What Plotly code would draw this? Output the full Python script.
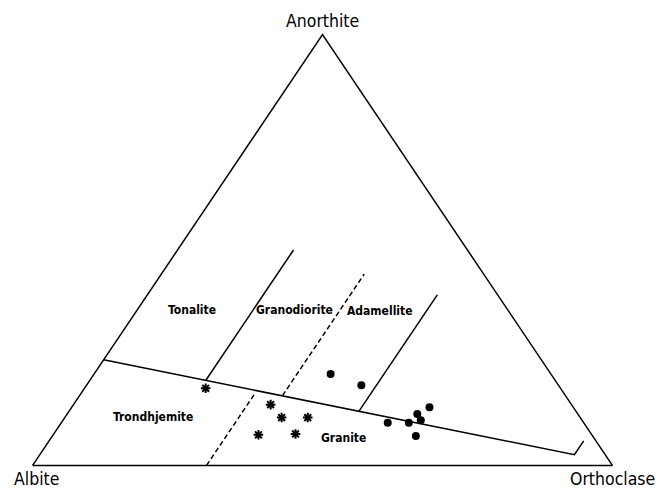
import plotly.graph_objects as go

# ---------------- data (percent An / Ab / Or) ----------------
vertex_labels = ["Anorthite", "Albite", "Orthoclase"]
region_labels = ["Tonalite", "Granodiorite", "Adamellite", "Trondhjemite", "Granite"]

# samples plotted as asterisks
star_an = [17.9, 14.1, 11.1, 11.1, 7.1, 7.3]
star_or = [20.9, 34.0, 37.4, 41.9, 35.4, 41.7]
star_ab = [61.2, 51.9, 51.5, 47.0, 57.5, 51.0]

# samples plotted as filled circles
dot_an = [21.2, 18.6, 13.5, 11.9, 10.5, 9.9, 9.9, 6.8]
dot_or = [40.8, 47.4, 61.7, 60.4, 61.7, 56.3, 60.0, 62.7]
dot_ab = [38.0, 34.0, 24.8, 27.7, 27.8, 33.8, 30.2, 30.5]

# field boundaries (An, Or); Ab = 100 - An - Or
tri_an = [0, 100, 0, 0]
tri_or = [0, 0, 100, 0]
main_an = [24.5, 2.5, 5.7]
main_or = [0.0, 92.2, 92.2]
ton_gd_an = [19.7, 50.0]
ton_gd_or = [20.0, 20.0]
gd_ad_an = [16.2, 44.4]
gd_ad_or = [35.0, 35.0]
ad_gr_an = [12.6, 39.6]
ad_gr_or = [50.0, 50.0]
tr_gr_an = [0.0, 16.5]
tr_gr_or = [30.0, 30.0]


def to_xy(an, orr, ab=None):
    """Project ternary compositions onto the triangle's plane."""
    xs, ys = [], []
    for i, (a, o) in enumerate(zip(an, orr)):
        b = ab[i] if ab is not None else 100.0 - a - o
        t = a + b + o
        xs.append((o + a / 2.0) * 100.0 / t)
        ys.append(a * 100.0 / t)
    return xs, ys


FONT = "DejaVu Sans Condensed, DejaVu Sans, sans-serif"
fig = go.Figure()


def add_line(an, orr, dash="solid"):
    x, y = to_xy(an, orr)
    fig.add_trace(go.Scatter(x=x, y=y, mode="lines", hoverinfo="skip",
                             line=dict(color="black", width=1.5, dash=dash),
                             showlegend=False))


add_line(tri_an, tri_or)
add_line(main_an, main_or)
add_line(ton_gd_an, ton_gd_or)
add_line(gd_ad_an, gd_ad_or, dash="5px,3px")
add_line(ad_gr_an, ad_gr_or)
add_line(tr_gr_an, tr_gr_or, dash="5px,3px")

sx, sy = to_xy(star_an, star_or, star_ab)
fig.add_trace(go.Scatter(x=sx, y=sy, mode="markers", showlegend=False,
                         cliponaxis=False,
                         marker=dict(symbol="asterisk-open", size=8, color="black",
                                     line=dict(color="black", width=2))))
dx, dy = to_xy(dot_an, dot_or, dot_ab)
fig.add_trace(go.Scatter(x=dx, y=dy, mode="markers", showlegend=False,
                         cliponaxis=False,
                         marker=dict(symbol="circle", size=8, color="black")))

# vertex labels
vx, vy = to_xy([100, 0, 0], [0, 0, 100])
shifts = [(0, 13.5), (4, -13.5), (0, -13.5)]
for lab, x, y, (xs, ys) in zip(vertex_labels, vx, vy, shifts):
    fig.add_annotation(x=x, y=y, text=lab, showarrow=False, xshift=xs, yshift=ys,
                       xanchor="center", yanchor="middle",
                       font=dict(family=FONT, size=17.5, color="black"))

# field labels
label_pos = [(27.5, 36.1), (45.2, 36.1), (60.0, 35.9), (20.8, 11.2), (53.6, 6.3)]
for lab, (x, y) in zip(region_labels, label_pos):
    fig.add_annotation(x=x, y=y, text=lab, showarrow=False,
                       xanchor="center", yanchor="middle",
                       font=dict(family=FONT, size=12, color="black", weight="bold"))

ax = dict(visible=False, range=[-2, 102], showgrid=False, zeroline=False, fixedrange=True)
fig.update_layout(
    width=662, height=482,
    margin=dict(l=13, r=46, t=18, b=16),
    paper_bgcolor="white", plot_bgcolor="white",
    xaxis=ax, yaxis=ax,
)

fig.write_html("out.html")
